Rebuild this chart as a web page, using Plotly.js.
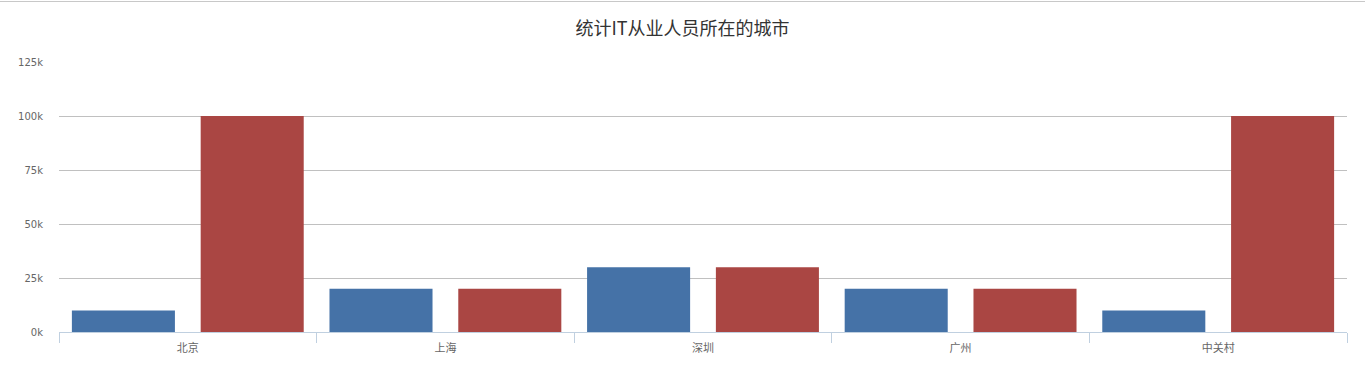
<!DOCTYPE html>
<html>
<head>
<meta charset="utf-8">
<script src="https://cdn.plot.ly/plotly-3.0.1.min.js"></script>
<style>
html,body{margin:0;padding:0;background:#fff;}
#topline{position:absolute;left:0;top:1px;width:1365px;height:1px;background:#c8c8c8;z-index:10;}
#chart{position:absolute;left:0;top:0;width:1365px;height:368px;}
</style>
</head>
<body>
<div id="topline"></div>
<div id="chart"></div>
<script>
const categories = ['北京', '上海', '深圳', '广州', '中关村'];
const seriesA = [10000, 20000, 30000, 20000, 10000];
const seriesB = [100000, 20000, 30000, 20000, 100000];
const yTickVals = [0, 25000, 50000, 75000, 100000, 125000];
const yTickText = ['0k', '25k', '50k', '75k', '100k', '125k'];

const traces = [
  {type: 'bar', name: 'A', x: categories, y: seriesA, marker: {color: '#4572A7'}, hoverinfo: 'x+y'},
  {type: 'bar', name: 'B', x: categories, y: seriesB, marker: {color: '#AA4643'}, hoverinfo: 'x+y'}
];

const layout = {
  width: 1365, height: 368,
  margin: {l: 59, r: 18, t: 62, b: 36},
  paper_bgcolor: '#fff', plot_bgcolor: '#fff',
  showlegend: false,
  barmode: 'group', bargap: 0, bargroupgap: 0.2,
  title: {
    text: '统计IT从业人员所在的城市',
    x: 0.5, xanchor: 'center', y: 1 - 29/368, yanchor: 'middle',
    font: {family: '"Noto Sans CJK SC", sans-serif', size: 18, color: '#333333'}
  },
  xaxis: {
    type: 'category',
    showline: true, linecolor: '#C0D0E0', linewidth: 1,
    ticks: 'outside', tickson: 'boundaries', ticklen: 10, tickcolor: '#C0D0E0', tickwidth: 1,
    ticklabelstandoff: 6,
    showgrid: false, zeroline: false,
    tickfont: {family: '"Noto Sans CJK SC", sans-serif', size: 11, color: '#666666'}
  },
  yaxis: {
    range: [0, 125000],
    tickvals: yTickVals, ticktext: yTickText,
    showgrid: true, gridcolor: '#C0C0C0', gridwidth: 1,
    zeroline: false, showline: false,
    ticks: 'outside', ticklen: 13, tickcolor: 'rgba(0,0,0,0)',
    tickfont: {family: '"DejaVu Sans", sans-serif', size: 10, color: '#666666'}
  }
};

Plotly.newPlot('chart', traces, layout, {displayModeBar: false, staticPlot: true});
</script>
</body>
</html>
